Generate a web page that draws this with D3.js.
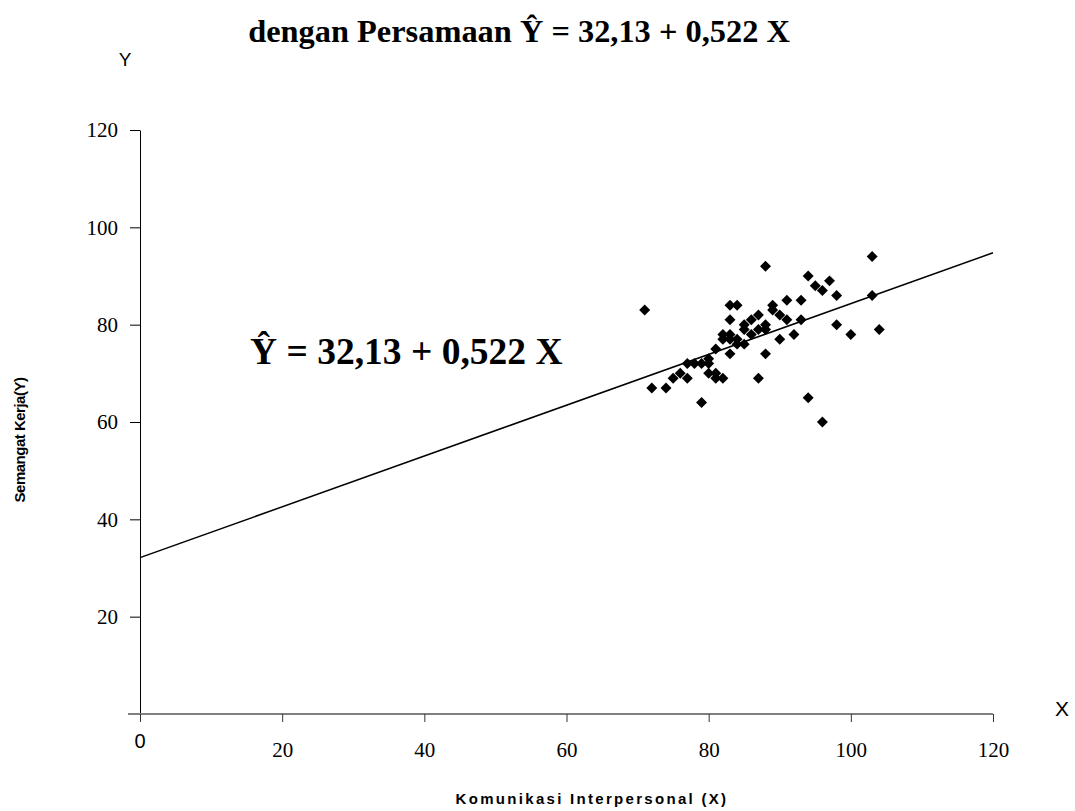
<!DOCTYPE html>
<html>
<head>
<meta charset="utf-8">
<script src="https://cdn.jsdelivr.net/npm/d3@7"></script>
<style>
  body { margin: 0; background: #fff; }
  svg { display: block; }
</style>
</head>
<body>
<svg width="1075" height="811"></svg>
<script>
const svg = d3.select("svg");

// data: Komunikasi Interpersonal (X) vs Semangat Kerja (Y)
const komunikasiX = [71, 72, 74, 75, 76, 77, 77, 78, 79, 79, 80, 80, 81, 81, 82, 81, 82, 82, 83, 84,
  84, 85, 83, 83, 83, 84, 85, 85, 86, 86, 87, 87, 88, 88, 88, 87, 88, 89, 89, 90,
  90, 91, 91, 92, 93, 93, 94, 95, 96, 97, 98, 98, 100, 103, 103, 104, 94, 96, 83, 80];
const semangatY = [83, 67, 67, 69, 70, 69, 72, 72, 72, 64, 73, 72, 70, 69, 69, 75, 77, 78, 77, 77,
  76, 76, 74, 81, 84, 84, 79, 80, 78, 81, 82, 79, 80, 79, 74, 69, 92, 84, 83, 82,
  77, 85, 81, 78, 85, 81, 90, 88, 87, 89, 86, 80, 78, 94, 86, 79, 65, 60, 78, 70];
const intercept = 32.13;
const slope = 0.522;
const xTicks = [0, 20, 40, 60, 80, 100, 120];
const yTicks = [0, 20, 40, 60, 80, 100, 120];
const titleText = "dengan Persamaan Ŷ = 32,13 + 0,522 X";
const eqText = "Ŷ = 32,13 + 0,522 X";

const points = komunikasiX.map((x, i) => ({ x, y: semangatY[i] }));

const x = d3.scaleLinear().domain([0, 120]).range([140, 993]);
const y = d3.scaleLinear().domain([0, 120]).range([714, 130]);

// title
svg.append("text")
  .attr("x", 519).attr("y", 42)
  .attr("text-anchor", "middle")
  .attr("font-family", "Liberation Serif, Times New Roman, serif")
  .attr("font-weight", "bold")
  .attr("font-size", 32.4)
  .text(titleText);

// y axis
const yAxis = svg.append("g")
  .attr("transform", `translate(${x(0)},0)`)
  .call(d3.axisLeft(y).tickValues(yTicks).tickSize(10).tickSizeOuter(0)
    .tickFormat(d => d === 0 ? "" : d));
yAxis.select(".domain").attr("stroke", "#000");
yAxis.selectAll(".tick line").attr("stroke", "#000");
yAxis.selectAll(".tick text")
  .attr("x", -22)
  .attr("font-family", "Liberation Serif, Times New Roman, serif")
  .attr("font-size", 21)
  .attr("fill", "#000");

// x axis
const xAxis = svg.append("g")
  .attr("transform", `translate(0,${y(0)})`)
  .call(d3.axisBottom(x).tickValues(xTicks).tickSize(8).tickSizeOuter(0)
    .tickFormat(d => d === 0 ? "" : d));
xAxis.select(".domain").attr("stroke", "#7f7f7f").attr("stroke-width", 2)
  .attr("d", `M${x(0) - 12},0H${x(120)}`);
xAxis.selectAll(".tick line").attr("stroke", "#333");
xAxis.selectAll(".tick text")
  .attr("y", 28)
  .attr("font-family", "Liberation Serif, Times New Roman, serif")
  .attr("font-size", 21)
  .attr("fill", "#000");

// origin and axis letters
svg.append("text").attr("x", 140).attr("y", 748)
  .attr("text-anchor", "middle")
  .attr("font-family", "Liberation Sans, Arial, sans-serif")
  .attr("font-size", 20).text("0");
svg.append("text").attr("x", 125).attr("y", 66)
  .attr("text-anchor", "middle")
  .attr("font-family", "Liberation Sans, Arial, sans-serif")
  .attr("font-size", 19).text("Y");
svg.append("text").attr("x", 1062).attr("y", 716)
  .attr("text-anchor", "middle")
  .attr("font-family", "Liberation Sans, Arial, sans-serif")
  .attr("font-size", 21).text("X");

// axis titles
svg.append("text")
  .attr("transform", "translate(25,440) rotate(-90)")
  .attr("text-anchor", "middle")
  .attr("font-family", "Liberation Sans, Arial, sans-serif")
  .attr("font-weight", "bold")
  .attr("font-size", 15)
  .attr("letter-spacing", -0.5)
  .text("Semangat Kerja(Y)");
svg.append("text")
  .attr("x", 592).attr("y", 804)
  .attr("text-anchor", "middle")
  .attr("font-family", "Liberation Sans, Arial, sans-serif")
  .attr("font-weight", "bold")
  .attr("font-size", 15)
  .attr("letter-spacing", 2.3)
  .text("Komunikasi Interpersonal (X)");

// regression line
svg.append("path")
  .datum([0, 120])
  .attr("fill", "none")
  .attr("stroke", "#000")
  .attr("stroke-width", 1.5)
  .attr("d", d3.line().x(d => x(d)).y(d => y(intercept + slope * d)));

// points as diamonds
svg.selectAll("path.pt")
  .data(points)
  .join("path")
  .attr("class", "pt")
  .attr("transform", d => `translate(${x(d.x)},${y(d.y)}) rotate(45)`)
  .attr("d", d3.symbol(d3.symbolSquare, 60))
  .attr("fill", "#000");

// equation label
svg.append("text")
  .attr("x", 250).attr("y", 364)
  .attr("font-family", "Liberation Serif, Times New Roman, serif")
  .attr("font-weight", "bold")
  .attr("font-size", 37.5)
  .text(eqText);
</script>
</body>
</html>
